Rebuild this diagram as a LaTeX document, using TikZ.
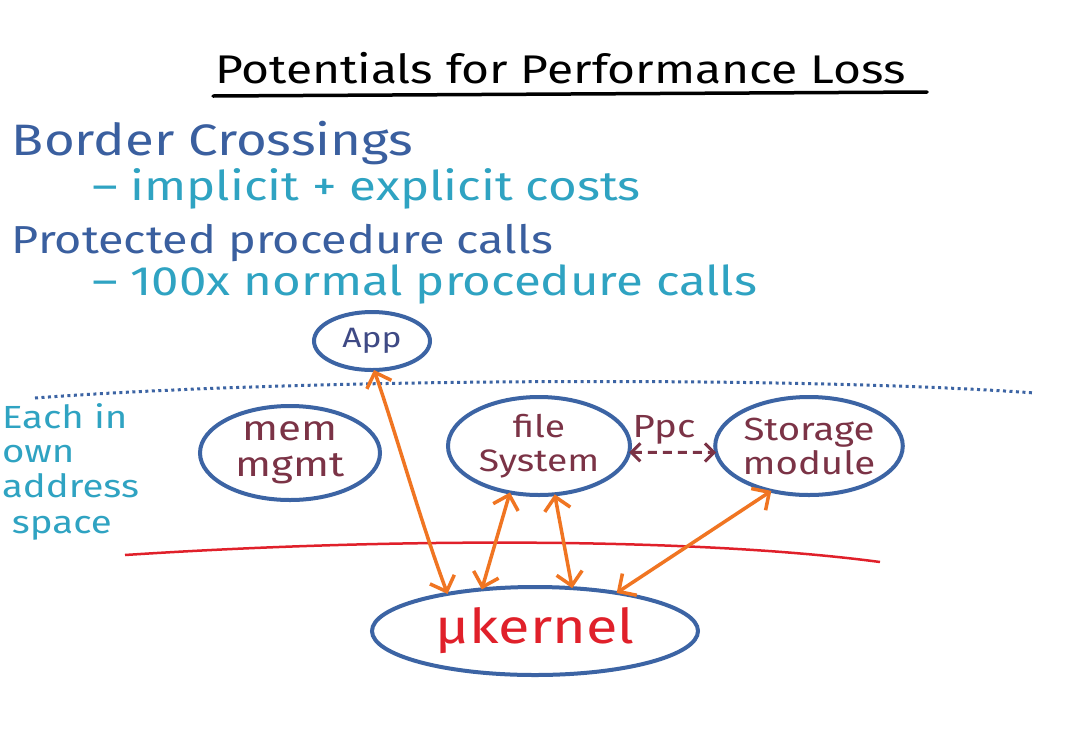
\documentclass[tikz,border=0pt]{standalone}
\usepackage{fontspec}
\setmainfont{Fira Sans}[FakeStretch=1.2]
\usetikzlibrary{arrows.meta,shapes.geometric}
\definecolor{hblue}{HTML}{3A5F9F}
\definecolor{hteal}{HTML}{2FA3C2}
\definecolor{eblue}{HTML}{3C64A4}
\definecolor{maroon}{HTML}{7B3346}
\definecolor{appc}{HTML}{3F4A85}
\definecolor{kred}{HTML}{E0202A}
\definecolor{orng}{HTML}{F07522}
\newcommand\fsz[1]{\fontsize{#1}{#1}\selectfont}
\tikzset{
  txt/.style={anchor=base west, inner sep=0pt, outer sep=0pt},
  ell/.style={ellipse, draw=eblue, line width=4pt, inner sep=0pt, outer sep=0pt, align=center},
  oarr/.style={draw=orng, line width=3.5pt, line cap=round,
    {Straight Barb[length=13pt,width=26pt]}-{Straight Barb[length=13pt,width=26pt]}},
  parr/.style={draw=maroon, line width=3pt, dash pattern=on 9pt off 6pt,
    {Straight Barb[length=9pt,width=18pt]}-{Straight Barb[length=9pt,width=18pt]}}
}
\begin{document}
\begin{tikzpicture}[x=1pt,y=-1pt]
\useasboundingbox (0,0) rectangle (1079,729);
\fill[white] (0,0) rectangle (1079,729);
% title
\node[txt, text=black, font=\fsz{40}] (title) at (215,83) {Potentials for Performance Loss};
\coordinate (ul1) at (213,96);
\coordinate (ul2) at (927,92);
\draw[line width=3.5pt, line cap=round] (ul1) -- (ul2);
% bullet text
\node[txt, text=hblue, font=\fsz{44}] (b1) at (12,155) {Border Crossings};
\node[txt, text=hteal, font=\fsz{41}] (b2) at (92,200) {– implicit + explicit costs};
\node[txt, text=hblue, font=\fsz{39}] (b3) at (12,253) {Protected procedure calls};
\node[txt, text=hteal, font=\fsz{41}] (b4) at (92,295) {– 100x normal procedure calls};
% side note
\node[txt, text=hteal, font=\fsz{32}] (s1) at (2,428) {Each in};
\node[txt, text=hteal, font=\fsz{32}] (s2) at (2,462) {own};
\node[txt, text=hteal, font=\fsz{32}] (s3) at (2,497) {address};
\node[txt, text=hteal, font=\fsz{32}] (s4) at (12,533) {space};
% boundary lines
\coordinate (d1) at (35,398);
\coordinate (d2) at (1035,393);
\draw[eblue, line width=3pt, dash pattern=on 3pt off 3.5pt] (d1) .. controls (300,378) and (800,376) .. (d2);
\coordinate (r1) at (125,555);
\coordinate (r2) at (880,562);
\draw[kred, line width=2.5pt] (r1) .. controls (400,537) and (700,538) .. (r2);
% nodes
\node[ell, minimum width=116pt, minimum height=58pt, text=appc, font=\fsz{28}] (app) at (372,341) {App};
\node[ell, minimum width=180pt, minimum height=94pt, text=maroon, font=\fontsize{35}{36}\selectfont] (mem) at (290,453) {mem\\mgmt};
\node[ell, minimum width=182pt, minimum height=98pt, text=maroon, font=\fontsize{31}{34}\selectfont] (fs) at (539,446) {file\\System};
\node[ell, minimum width=182pt, minimum height=98pt, text=maroon, font=\fontsize{32}{34}\selectfont] (sm) at (809,446) {Storage\\module};
\node[ell, minimum width=326pt, minimum height=88pt, text=kred, font=\fsz{48}] (mk) at (535,631) {μkernel};
\node[txt, anchor=base, text=maroon, font=\fsz{32}] (ppc) at (664,437) {Ppc};
% connectors
\draw[parr] (fs.-4) -- (sm.184);
\draw[oarr] (app.-86) .. controls (395,430) and (420,520) .. (mk.157);
\draw[oarr] (fs.-122) -- (mk.142);
\draw[oarr] (fs.-72) -- (mk.49);
\draw[oarr] (sm.-130) -- (mk.25);
\end{tikzpicture}
\end{document}
